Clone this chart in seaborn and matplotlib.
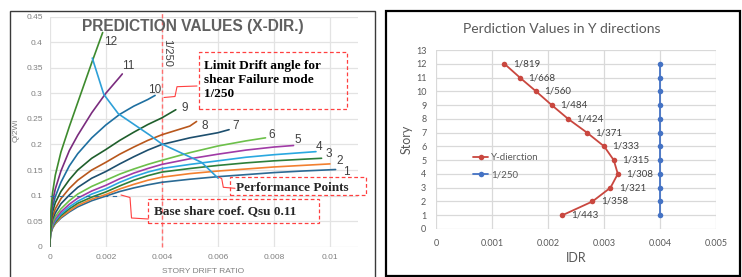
import numpy as np
import pandas as pd
import matplotlib
matplotlib.use("Agg")
import matplotlib.pyplot as plt
import seaborn as sns
from matplotlib.patches import Rectangle
from matplotlib.lines import Line2D

# -----------------------------
# Data
# -----------------------------

# X-direction: Q/2Wi versus story drift ratio, one curve per story
drift_grid = [0, 0.00003, 0.0001, 0.0002, 0.0004, 0.0007, 0.001, 0.0015, 0.002,
              0.0025, 0.003, 0.0035, 0.004, 0.005, 0.006, 0.007, 0.008, 0.009]

q1 = [0, 0.024, 0.036, 0.045, 0.056, 0.068, 0.078, 0.090, 0.099, 0.108, 0.115, 0.121, 0.126, 0.132, 0.137, 0.141, 0.145, 0.148]
q2 = [0, 0.025, 0.037, 0.046, 0.058, 0.070, 0.081, 0.093, 0.102, 0.113, 0.122, 0.130, 0.136, 0.143, 0.148, 0.152, 0.156, 0.159]
q3 = [0, 0.026, 0.039, 0.048, 0.061, 0.074, 0.085, 0.097, 0.107, 0.119, 0.130, 0.139, 0.146, 0.153, 0.159, 0.164, 0.168, 0.171]
q4 = [0, 0.027, 0.041, 0.051, 0.064, 0.078, 0.089, 0.103, 0.113, 0.126, 0.137, 0.146, 0.153, 0.161, 0.168, 0.175, 0.180, 0.184]
q5 = [0, 0.029, 0.043, 0.054, 0.068, 0.083, 0.095, 0.109, 0.120, 0.133, 0.144, 0.153, 0.161, 0.172, 0.181, 0.189, 0.195]
q6 = [0, 0.031, 0.047, 0.059, 0.074, 0.090, 0.103, 0.118, 0.130, 0.142, 0.152, 0.161, 0.169, 0.184, 0.197, 0.207]
q7 = [0, 0.035, 0.053, 0.066, 0.084, 0.101, 0.116, 0.134, 0.147, 0.162, 0.176, 0.189, 0.200, 0.213, 0.223]
q8 = [0, 0.040, 0.059, 0.074, 0.094, 0.114, 0.130, 0.150, 0.165, 0.181, 0.195, 0.208, 0.219, 0.236]
q9 = [0, 0.046, 0.068, 0.086, 0.108, 0.131, 0.150, 0.173, 0.190, 0.208, 0.224, 0.239, 0.252]
q10 = [0, 0.050, 0.077, 0.098, 0.126, 0.158, 0.182, 0.213, 0.238, 0.259, 0.275, 0.288]
q11 = [0, 0.055, 0.088, 0.113, 0.148, 0.188, 0.218, 0.262, 0.300, 0.332]
q12 = [0, 0.062, 0.105, 0.140, 0.185, 0.235, 0.282, 0.360]

# last point of every curve (story 1..12)
end_drift = [0.0102, 0.0100, 0.0097, 0.0095, 0.0087, 0.0077, 0.0064, 0.00524, 0.0045, 0.00376, 0.00259, 0.00189]
end_q = [0.151, 0.162, 0.173, 0.186, 0.198, 0.213, 0.229, 0.245, 0.268, 0.296, 0.338, 0.419]

# curve number labels (position of the label text)
label_drift = [0.01057, 0.01036, 0.00994, 0.00962, 0.00885, 0.00792, 0.00665, 0.00554, 0.00483, 0.00376, 0.0028, 0.00219]
label_q = [0.146, 0.168, 0.181, 0.195, 0.209, 0.218, 0.237, 0.237, 0.272, 0.307, 0.353, 0.400]

# performance points polyline
perf_drift = [0.00152, 0.00193, 0.00245, 0.00358, 0.0040, 0.00542, 0.00601]
perf_q = [0.369, 0.298, 0.260, 0.218, 0.201, 0.165, 0.134]

curve_colors = ["#2B6A94", "#F28030", "#2D7F3A", "#29A8E0", "#A03BA6", "#6CC04A",
                "#1D4F6E", "#B8571C", "#1F5F2C", "#1E6FA0", "#7A2C7E", "#3E8B2E"]

# Y-direction: inter-story drift ratio per story
stories = [1, 2, 3, 4, 5, 6, 7, 8, 9, 10, 11, 12]
idr_den = [443, 358, 321, 308, 315, 333, 371, 424, 484, 560, 668, 819]
limit_idr = [0.004] * 12

# -----------------------------
# Build tables
# -----------------------------
q_lists = [q1, q2, q3, q4, q5, q6, q7, q8, q9, q10, q11, q12]
rows = []
for i, q in enumerate(q_lists):
    xs = drift_grid[:len(q)] + [end_drift[i]]
    ys = q + [end_q[i]]
    for x, y in zip(xs, ys):
        rows.append({"curve": str(i + 1), "drift": x, "q": y})
xdir = pd.DataFrame(rows)

ydir = pd.DataFrame({
    "story": stories,
    "idr": [1.0 / d for d in idr_den],
    "limit": limit_idr,
})

# -----------------------------
# Figure
# -----------------------------
sns.set_theme(style="white")
plt.rcParams["font.family"] = ["Liberation Sans", "DejaVu Sans"]

W, H = 742, 277
fig = plt.figure(figsize=(W / 100, H / 100), dpi=100)


def fx(px):
    return px / W


def fy(py):
    return 1 - py / H


# panel frames
fig.patches.append(Rectangle((fx(10), fy(290)), fx(365), (290 - 11) / H,
                             transform=fig.transFigure, fill=False,
                             edgecolor="#3A3A3A", lw=1.0))
fig.patches.append(Rectangle((fx(385.5), fy(276)), fx(354), (276 - 11) / H,
                             transform=fig.transFigure, fill=False,
                             edgecolor="black", lw=1.6))

# ---------- left chart ----------
ax1 = fig.add_axes([fx(49.7), fy(246.7), fx(308.3), 230 / H])
sns.lineplot(data=xdir, x="drift", y="q", hue="curve",
             hue_order=[str(i) for i in range(1, 13)], palette=curve_colors,
             estimator=None, sort=False, legend=False, lw=1.2, ax=ax1)
ax1.plot(perf_drift, perf_q, color="#2EA0D8", lw=1.2)
ax1.plot([0, 0.0025], [0.1, 0.1], color="#2E6E9E", lw=0.8, ls=(0, (4, 4)))
ax1.plot([0.004, 0.004], [0, 0.459], color="#FF7070", lw=1.0,
         ls=(0, (3, 2)), clip_on=False, zorder=1)

for i in range(12):
    ax1.text(label_drift[i], label_q[i], str(i + 1), fontsize=8.5,
             color="#404040", ha="center", va="center")

ax1.set_xlim(0, 0.011)
ax1.set_ylim(0, 0.45)
ax1.set_xticks([0, 0.002, 0.004, 0.006, 0.008, 0.01])
ax1.set_xticklabels(["0", "0.002", "0.004", "0.006", "0.008", "0.01"])
ax1.set_yticks(np.arange(0, 0.46, 0.05))
ax1.set_yticklabels(["0", "0.05", "0.1", "0.15", "0.2", "0.25", "0.3", "0.35", "0.4", "0.45"])
ax1.tick_params(labelsize=6, colors="#808080", length=0, pad=5)
ax1.grid(True, color="#E3E3E3", lw=0.9)
ax1.set_axisbelow(True)
for s in ax1.spines.values():
    s.set_visible(False)
ax1.set_xlabel("")
ax1.set_ylabel("")
fig.text(fx(203), fy(271.5), "STORY DRIFT RATIO", fontsize=6, color="#808080",
         ha="center", va="center")
fig.text(fx(16), fy(130), "Q/2Wi", fontsize=6, color="#808080",
         ha="center", va="center", rotation=90)
fig.text(fx(192.5), fy(26.5), "PREDICTION VALUES (X-DIR.)", fontsize=11.2,
         fontweight="bold", color="#606060", ha="center", va="center")
fig.text(fx(167), fy(53), "1/250", fontsize=8, color="#404040",
         ha="center", va="center", rotation=270)

# annotation boxes
red = "#FF4040"
serif = ["Liberation Serif", "DejaVu Serif"]
boxes = [(199, 52, 347, 109), (230, 176.7, 366, 195), (148, 199, 319, 222.7)]
for x0, y0, x1, y1 in boxes:
    fig.patches.append(Rectangle((fx(x0), fy(y1)), fx(x1 - x0), (y1 - y0) / H,
                                 transform=fig.transFigure, fill=False,
                                 edgecolor=red, lw=0.9, ls=(0, (3, 2))))
fig.text(fx(204), fy(80), "Limit Drift angle for\nshear Failure mode\n1/250",
         fontsize=9.5, fontweight="bold", family=serif, color="black",
         ha="left", va="center", linespacing=1.25)
fig.text(fx(236), fy(188), "Performance Points", fontsize=9.5,
         fontweight="bold", family=serif, ha="left", va="center")
fig.text(fx(154), fy(211), "Base share coef. Qsu 0.11", fontsize=9.5,
         fontweight="bold", family=serif, ha="left", va="center")

connectors = [
    [(197, 86), (177, 86.7), (175, 96.5), (164, 97.5)],
    [(218.3, 177), (221.7, 178.5), (223.3, 187.3), (235, 188.3)],
    [(121, 195), (130, 197.5), (131.5, 218), (148.3, 219)],
]
for pts in connectors:
    fig.lines.append(Line2D([fx(p[0]) for p in pts], [fy(p[1]) for p in pts],
                            transform=fig.transFigure, color=red, lw=0.8))

# ---------- right chart ----------
ax2 = fig.add_axes([fx(436), fy(229), fx(280), 179 / H])
red_line = "#C9473F"
blue_line = "#4472C4"
sns.lineplot(data=ydir, x="idr", y="story", sort=False, estimator=None,
             color=red_line, marker="o", markersize=4, markeredgewidth=0,
             lw=1.3, label="Y-dierction", ax=ax2)
sns.lineplot(data=ydir, x="limit", y="story", sort=False, estimator=None,
             color=blue_line, marker="o", markersize=4, markeredgewidth=0,
             lw=1.3, label="1/250", ax=ax2)
for s, d in zip(stories, idr_den):
    ax2.annotate(f"1/{d}", (1.0 / d, s), xytext=(6, 0),
                 textcoords="offset points", fontsize=7, color="#404040",
                 family=["Lato", "DejaVu Sans"], ha="left", va="center")

ax2.set_xlim(0, 0.005)
ax2.set_ylim(0, 13)
ax2.set_xticks([0, 0.001, 0.002, 0.003, 0.004, 0.005])
ax2.set_xticklabels(["0", "0.001", "0.002", "0.003", "0.004", "0.005"])
ax2.set_yticks(range(0, 14))
ax2.tick_params(labelsize=6.5, colors="#595959", length=0, pad=7)
for lab in ax2.get_xticklabels() + ax2.get_yticklabels():
    lab.set_family(["Lato", "DejaVu Sans"])
ax2.grid(True, color="#D9D9D9", lw=0.9)
ax2.set_axisbelow(True)
for s in ax2.spines.values():
    s.set_visible(False)
ax2.set_xlabel("IDR", fontsize=9, color="#595959", family=["Lato", "DejaVu Sans"], labelpad=3)
ax2.set_ylabel("Story", fontsize=9, color="#595959", family=["Lato", "DejaVu Sans"], labelpad=2)
ax2.legend(loc="center left", bbox_to_anchor=(0.1, 0.35), frameon=False,
           handlelength=1.6, labelspacing=0.85, handletextpad=0.3,
           prop={"family": ["Lato", "DejaVu Sans"], "size": 7},
           labelcolor="#595959")
fig.text(fx(562), fy(29), "Perdiction Values in Y directions", fontsize=10,
         color="#595959", family=["Lato", "DejaVu Sans"], ha="center", va="center")

fig.savefig("out.png", dpi=100)
